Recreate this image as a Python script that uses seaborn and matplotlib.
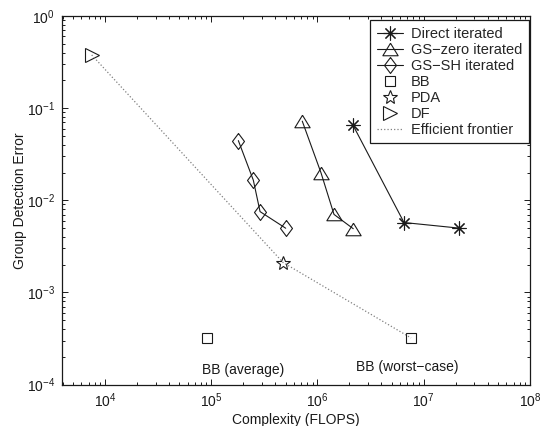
import matplotlib
matplotlib.use("Agg")
import matplotlib.pyplot as plt
import seaborn as sns
import numpy as np
from matplotlib.ticker import LogLocator, LogFormatterSciNotation, NullFormatter

# ---- data ----
direct_x = [2.16e6, 6.52e6, 2.16e7]
direct_y = [0.0652, 0.00573, 0.00498]
gszero_x = [7.19e5, 1.08e6, 1.43e6, 2.17e6]
gszero_y = [0.0722, 0.0198, 0.00702, 0.00491]
gssh_x = [1.80e5, 2.49e5, 2.88e5, 5.02e5]
gssh_y = [0.0444, 0.0165, 0.00753, 0.00497]
bb_x = [9.06e4, 7.59e6]
bb_y = [3.2e-4, 3.2e-4]
pda_x = [4.74e5]
pda_y = [0.00211]
df_x = [7.5e3]
df_y = [0.378]
frontier_x = [7.5e3, 4.74e5, 7.59e6]
frontier_y = [0.378, 0.00211, 3.2e-4]
labels = ["Direct iterated", "GS\u2212zero iterated", "GS\u2212SH iterated",
          "BB", "PDA", "DF", "Efficient frontier"]
annot_text = ["BB (average)", "BB (worst\u2212case)"]
annot_x = [8.13e4, 2.3e6]
annot_y = [1.44e-4, 1.56e-4]

sns.set_theme(style="ticks")
plt.rcParams['font.family'] = ['Liberation Sans', 'DejaVu Sans']
plt.rcParams['mathtext.default'] = 'regular'

fig = plt.figure(figsize=(5.49, 4.26), dpi=100)
ax = fig.add_axes([62/549, 1-384.5/426, (530-62)/549, (384.5-16)/426])
ax.set_xscale('log')
ax.set_yscale('log')

lw = 0.8
mew = 0.8
diamond = [(0, 1), (0.75, 0), (0, -1), (-0.75, 0), (0, 1)]
tri_up = [(0, 0.82), (1, -0.82), (-1, -0.82), (0, 0.82)]

common = dict(color='k', sort=False, estimator=None, markerfacecolor='none',
              markeredgecolor='k', markeredgewidth=mew, linewidth=lw, ax=ax)

sns.lineplot(x=direct_x, y=direct_y, marker=(8, 2, 0), markersize=10,
             label=labels[0], **common)
sns.lineplot(x=gszero_x, y=gszero_y, marker=tri_up, markersize=11,
             label=labels[1], **common)
sns.lineplot(x=gssh_x, y=gssh_y, marker=diamond, markersize=11.5,
             label=labels[2], **common)
sns.lineplot(x=bb_x, y=bb_y, marker='s', markersize=7.7, linestyle='None',
             label=labels[3], **common)
sns.lineplot(x=pda_x, y=pda_y, marker='*', markersize=10, linestyle='None',
             label=labels[4], **common)
sns.lineplot(x=df_x, y=df_y, marker='>', markersize=10, linestyle='None',
             label=labels[5], **common)
sns.lineplot(x=frontier_x, y=frontier_y, color='0.5', linestyle=':',
             linewidth=0.9, sort=False, estimator=None, label=labels[6], ax=ax)

for t, x, y in zip(annot_text, annot_x, annot_y):
    ax.text(x, y, t, fontsize=10, ha='left', va='center', color='k')

ax.set_xlim(3940, 1e8)
ax.set_ylim(1e-4, 1)
ax.xaxis.set_major_locator(LogLocator(base=10, numticks=10))
ax.yaxis.set_major_locator(LogLocator(base=10, numticks=10))
ax.xaxis.set_minor_locator(LogLocator(base=10, subs=np.arange(2, 10), numticks=20))
ax.yaxis.set_minor_locator(LogLocator(base=10, subs=np.arange(2, 10), numticks=20))
ax.xaxis.set_major_formatter(LogFormatterSciNotation())
ax.yaxis.set_major_formatter(LogFormatterSciNotation())
ax.xaxis.set_minor_formatter(NullFormatter())
ax.yaxis.set_minor_formatter(NullFormatter())

ax.tick_params(which='both', direction='in', top=True, right=True,
               labelsize=10, colors='k', width=0.7)
ax.tick_params(which='major', length=4, pad=5)
ax.tick_params(which='minor', length=2)
for s in ax.spines.values():
    s.set_linewidth(0.9)
    s.set_color('k')

ax.set_xlabel("Complexity (FLOPS)", fontsize=10, color='k', labelpad=2)
ax.set_ylabel("Group Detection Error", fontsize=10, color='k')
ax.yaxis.set_label_coords(-0.0754, 0.5)

leg = ax.legend(loc='upper right', bbox_to_anchor=(0.998, 0.989),
                borderaxespad=0, fontsize=10.5, frameon=True, fancybox=False,
                handlelength=1.83, handletextpad=0.53, labelspacing=0.14,
                borderpad=0.45)
leg.get_frame().set_edgecolor('k')
leg.get_frame().set_linewidth(0.9)
leg.get_frame().set_alpha(1)

fig.savefig("out.png", dpi=100)
